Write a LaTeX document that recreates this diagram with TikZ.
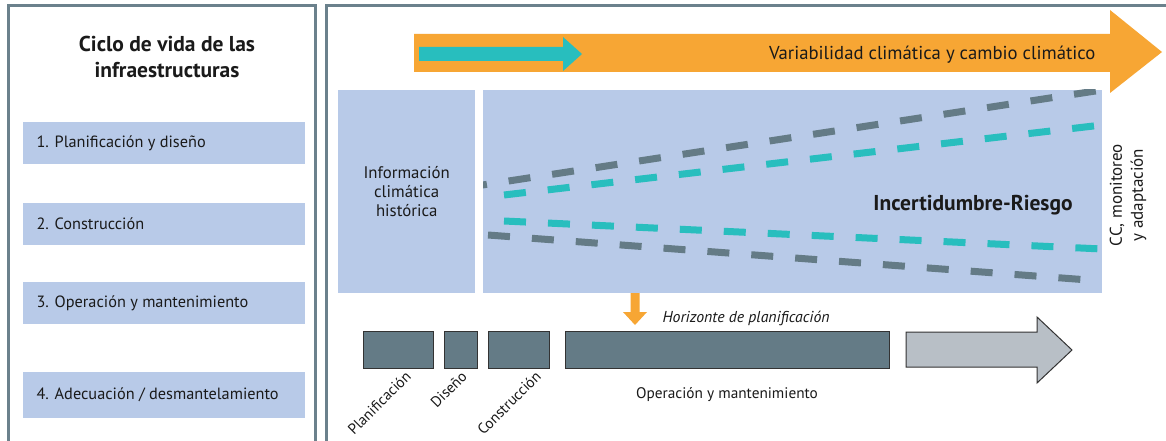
\documentclass[tikz,border=0pt]{standalone}
\usepackage{fontspec}
\setmainfont{PT Sans}
\definecolor{lblue}{HTML}{B8CAE8}
\definecolor{orng}{HTML}{F7A634}
\definecolor{teal2}{HTML}{28BEBE}
\definecolor{dgrey}{HTML}{647B86}
\definecolor{agrey}{HTML}{B8BFC6}
\definecolor{bord}{HTML}{6B818C}
\definecolor{txt}{HTML}{1A1A1A}
\begin{document}
\begin{tikzpicture}[x=1pt,y=-1pt,
  panel/.style={draw=bord,line width=3pt},
  stagetxt/.style={anchor=west,font=\fontsize{16.3}{19}\selectfont,text=txt},
  phase/.style={fill=dgrey,draw=black!80,line width=1pt},
  rotlab/.style={rotate=45,anchor=east,font=\fontsize{15}{17}\selectfont,text=txt,inner sep=1pt},
  dashgrey/.style={draw=dgrey,line width=7pt,dash pattern=on 22pt off 22pt},
  dashteal/.style={draw=teal2,line width=7pt,dash pattern=on 22pt off 22pt}]
\useasboundingbox (0,0) rectangle (1166,441);
\fill[white] (0,0) rectangle (1166,441);
% panels
\draw[panel] (8.5,445) -- (8.5,5.5) -- (315.5,5.5) -- (315.5,445);
\draw[panel] (326,445) -- (326,5.5) -- (1170,5.5);
% left title
\node[align=center,font=\bfseries\fontsize{21.5}{26}\selectfont,text=txt] (title) at (167,57) {Ciclo de vida de las\\infraestructuras};
% stages
\fill[lblue] (23,122) rectangle (305,164);
\fill[lblue] (23,203) rectangle (305,245);
\fill[lblue] (23,282) rectangle (305,324);
\fill[lblue] (23,372) rectangle (305,418);
\node[stagetxt] (s1) at (33,143) {1. Planificación y diseño};
\node[stagetxt] (s2) at (33,224) {2. Construcción};
\node[stagetxt] (s3) at (33,303) {3. Operación y mantenimiento};
\node[stagetxt] (s4) at (33,395) {4. Adecuación / desmantelamiento};
% orange arrow
\fill[orng] (414,34) -- (1110,34) -- (1110,10) -- (1162,52) -- (1110,93) -- (1110,72) -- (414,72) -- cycle;
\fill[teal2] (419,47) -- (563,47) -- (563,37) -- (582,54) -- (563,71) -- (563,61) -- (419,61) -- cycle;
\node[anchor=east,font=\fontsize{18.7}{22}\selectfont,text=txt] (vcc) at (1099,55) {Variabilidad climática y cambio climático};
% info box
\node[fill=lblue,minimum width=137pt,minimum height=203pt,inner sep=0pt,anchor=north west,
  align=center,font=\fontsize{16.8}{19}\selectfont,text=txt] (info) at (338,90) {Información\\climática\\histórica};
% big box
\node[fill=lblue,minimum width=619pt,minimum height=203pt,inner sep=0pt,anchor=north west] (big) at (483,90) {};
\begin{scope}
\clip (483,90) rectangle (1102,293);
\draw[dashgrey,dash phase=11pt] (476,186) -- (1102,90);
\draw[dashteal] (504,195) -- (1102,125);
\draw[dashteal] (504,221) -- (1102,249);
\draw[dashgrey] (488,235) -- (1102,281);
\end{scope}
\node[font=\bfseries\fontsize{21.5}{24}\selectfont,text=txt] (ir) at (973,205) {Incertidumbre-Riesgo};
\node[rotate=90,align=center,font=\fontsize{17}{21}\selectfont,text=txt] (cc) at (1128,195) {CC, monitoreo\\y adaptación};
% small orange arrow
\fill[orng] (630.5,293) -- (639.5,293) -- (639.5,312) -- (647,312) -- (635,325) -- (623,312) -- (630.5,312) -- cycle;
\node[anchor=west,font=\itshape\fontsize{15.8}{18}\selectfont,text=txt] (hor) at (659,318) {Horizonte de planificación};
% timeline
\draw[phase] (363,331) rectangle (433,368);
\draw[phase] (444,331) rectangle (477,368);
\draw[phase] (488,331) rectangle (549,368);
\draw[phase] (565,331) rectangle (889,368);
\coordinate (p1) at (409,373);
\coordinate (p2) at (465,373);
\coordinate (p3) at (539,373);
\node[rotlab] (l1) at (p1) {Planificación};
\node[rotlab] (l2) at (p2) {Diseño};
\node[rotlab] (l3) at (p3) {Construcción};
\node[font=\fontsize{15.3}{18}\selectfont,text=txt] (om) at (727,395) {Operación y mantenimiento};
\draw[fill=agrey,draw=black!80,line width=1pt] (906,332) -- (1037,332) -- (1037,317) -- (1072,350) -- (1037,383) -- (1037,367) -- (906,367) -- cycle;
\end{tikzpicture}
\end{document}
